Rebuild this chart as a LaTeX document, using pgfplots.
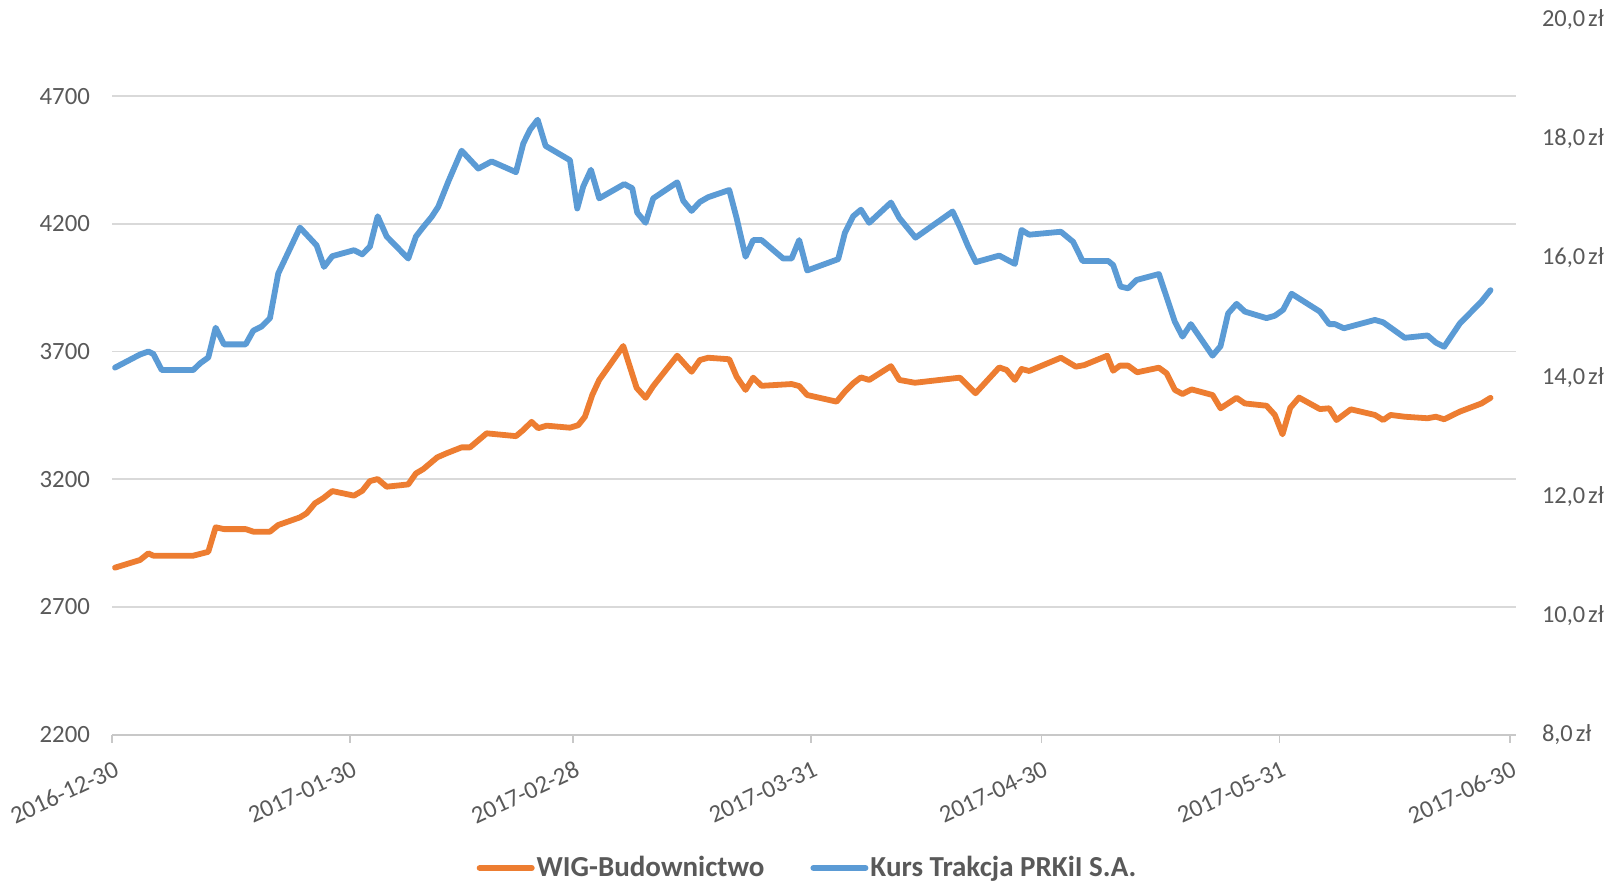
\documentclass[border=0pt]{standalone}
\usepackage{fontspec}
\setmainfont{Carlito}
\usepackage{pgfplots}
\pgfplotsset{compat=1.18}
\definecolor{wigorange}{HTML}{ED7D31}
\definecolor{kursblue}{HTML}{5B9BD5}
\definecolor{txtgray}{HTML}{595959}
\definecolor{gridgray}{HTML}{D9D9D9}
\definecolor{axisgray}{HTML}{C8C8C8}
\newcommand{\zl}[1]{#1\hspace{0.12em}zł}
\begin{document}
\begin{tikzpicture}
\path[use as bounding box] (0,0) rectangle (807.5pt,443.5pt);
\fill[white] (0,0) rectangle (807.5pt,443.5pt);
\begin{axis}[
  at={(56.15pt,76.15pt)}, anchor=south west,
  scale only axis, width=701.85pt, height=357.55pt,
  xmin=0, xmax=182.8, ymin=2200, ymax=5000,
  axis x line*=bottom, axis y line*=left,
  x axis line style={-, draw=axisgray, line width=0.9pt},
  y axis line style={draw=none},
  xtick={0,31,60,91,121,152,182},
  xticklabels={2016-12-30,2017-01-30,2017-02-28,2017-03-31,2017-04-30,2017-05-31,2017-06-30},
  xtick align=outside,
  major x tick style={draw=axisgray, line width=0.9pt},
  major tick length=4pt,
  ytick={2200,2700,3200,3700,4200,4700},
  yticklabels={2200,2700,3200,3700,4200,4700},
  major y tick style={draw=none},
  ymajorgrids, grid style={draw=gridgray, line width=0.8pt},
  tick label style={font=\fontsize{12.4}{14}\selectfont, text=txtgray},
  yticklabel style={anchor=east, inner sep=0pt, xshift=-11pt},
  xticklabel style={inner sep=0pt, xshift=0.5pt, yshift=-8.5pt, rotate=25, anchor=north east},
]
\addplot[wigorange, line width=2.9pt, line join=round, line cap=round] coordinates {
(0.35,2854) (3.61,2884) (4.69,2910) (5.34,2901) (10.55,2901) (12.5,2916) (13.46,3012) (14.54,3005)
(17.37,3005) (18.36,2995) (20.53,2995) (21.61,3021) (24.44,3051) (25.31,3067) (26.39,3106) (27.47,3126)
(28.65,3154) (31.47,3136) (32.55,3155) (33.55,3193) (34.56,3201) (35.73,3171) (38.54,3180) (39.54,3223)
(40.5,3240) (42.32,3286) (43.54,3302) (45.49,3325) (46.58,3325) (48.75,3380) (52.57,3369) (53.52,3393)
(54.6,3425) (55.47,3400) (56.56,3410) (59.6,3402) (60.68,3412) (61.55,3445) (62.5,3530) (63.41,3589)
(66.54,3722) (68.28,3558) (69.45,3519) (70.44,3565) (73.57,3684) (75.44,3621) (76.52,3667) (77.6,3676)
(80.34,3670) (81.3,3602) (82.47,3550) (83.46,3598) (84.55,3566) (88.46,3573) (89.45,3565) (90.49,3530)
(94.32,3504) (95.4,3543) (96.48,3576) (97.49,3599) (98.57,3589) (101.4,3643) (102.5,3589) (104.52,3578)
(110.38,3598) (112.42,3537) (115.5,3638) (116.46,3628) (117.54,3589) (118.41,3632) (119.4,3624) (123.53,3676)
(125.48,3641) (126.56,3647) (129.56,3684) (130.34,3625) (131.21,3645) (132.29,3645) (133.46,3619) (136.29,3637)
(137.29,3615) (138.37,3550) (139.37,3534) (140.55,3552) (143.28,3530) (144.32,3478) (146.41,3519) (147.49,3497)
(150.31,3488) (151.39,3452) (152.39,3376) (153.4,3480) (154.54,3520) (157.26,3475) (158.47,3478) (159.43,3432)
(161.29,3474) (164.42,3452) (165.5,3432) (166.46,3452) (168.32,3445) (171.28,3439) (172.36,3445) (173.44,3435)
(175.48,3465) (178.3,3497) (179.48,3519)
};
\end{axis}
\begin{axis}[
  at={(56.15pt,76.15pt)}, anchor=south west,
  scale only axis, width=701.85pt, height=357.55pt,
  xmin=0, xmax=182.8, ymin=8, ymax=20,
  hide x axis,
  axis y line*=right,
  y axis line style={draw=none},
  major y tick style={draw=none},
  ytick={8,10,12,14,16,18,20},
  yticklabels={\zl{8,0},\zl{10,0},\zl{12,0},\zl{14,0},\zl{16,0},\zl{18,0},\zl{20,0}},
  tick label style={font=\fontsize{12.2}{14}\selectfont, text=txtgray},
  yticklabel style={anchor=west, inner sep=0pt, xshift=12.8pt},
  legend style={at={(0.4953,-0.1864)}, anchor=center, draw=none, fill=none,
    font=\fontsize{14.5}{16}\selectfont\bfseries, text=txtgray,
    inner sep=0pt, nodes={inner sep=1pt},
    /tikz/every even column/.append style={column sep=22pt}},
  legend columns=2,
  legend image code/.code={\draw[#1, line width=3pt, line cap=round] (0pt,0pt) -- (26pt,0pt);},
]
\addlegendimage{wigorange}
\addlegendentry{WIG-Budownictwo}
\addplot[kursblue, line width=2.9pt, line join=round, line cap=round] coordinates {
(0.35,14.16) (3.61,14.38) (4.69,14.43) (5.34,14.39) (6.43,14.12) (10.55,14.12) (11.42,14.23) (12.5,14.33)
(13.46,14.83) (14.54,14.55) (17.37,14.55) (18.36,14.78) (19.45,14.85) (20.53,14.99) (21.61,15.74) (24.44,16.51)
(26.61,16.21) (27.57,15.85) (28.65,16.03) (31.47,16.13) (32.55,16.06) (33.55,16.19) (34.56,16.70) (35.73,16.36)
(38.54,15.99) (39.54,16.36) (40.5,16.52) (41.59,16.69) (42.45,16.86) (43.75,17.28) (45.49,17.80) (47.66,17.50)
(49.4,17.62) (52.57,17.44) (53.52,17.92) (54.39,18.15) (55.39,18.32) (56.43,17.88) (59.6,17.64) (60.55,16.83)
(61.33,17.20) (62.33,17.48) (63.41,17.00) (66.67,17.24) (67.71,17.17) (68.36,16.76) (69.45,16.59) (70.44,17.00)
(73.57,17.27) (74.35,16.96) (75.44,16.79) (76.52,16.94) (77.6,17.02) (80.34,17.14) (81.3,16.67) (82.47,16.02)
(83.46,16.30) (84.55,16.30) (87.37,15.99) (88.46,15.99) (89.45,16.30) (90.49,15.79) (94.53,15.98) (95.4,16.42)
(96.48,16.70) (97.49,16.81) (98.57,16.59) (101.4,16.93) (102.5,16.67) (104.6,16.34) (109.43,16.78) (110.38,16.52)
(111.46,16.19) (112.46,15.93) (115.5,16.04) (117.54,15.90) (118.41,16.47) (119.4,16.39) (123.53,16.44) (125.13,16.27)
(126.35,15.95) (129.69,15.95) (130.34,15.88) (131.3,15.52) (132.29,15.49) (133.38,15.63) (136.29,15.73) (138.37,14.93)
(139.37,14.68) (140.45,14.89) (143.28,14.36) (144.32,14.52) (145.31,15.07) (146.41,15.23) (147.49,15.10) (150.31,14.99)
(151.39,15.03) (152.47,15.13) (153.57,15.40) (157.26,15.10) (158.47,14.89) (159.21,14.89) (160.38,14.82) (164.42,14.96)
(165.5,14.92) (168.32,14.66) (171.28,14.70) (172.36,14.58) (173.44,14.51) (175.48,14.90) (178.3,15.27) (179.48,15.46)
};
\addlegendentry{Kurs Trakcja PRKiI S.A.}
\end{axis}
\end{tikzpicture}
\end{document}
